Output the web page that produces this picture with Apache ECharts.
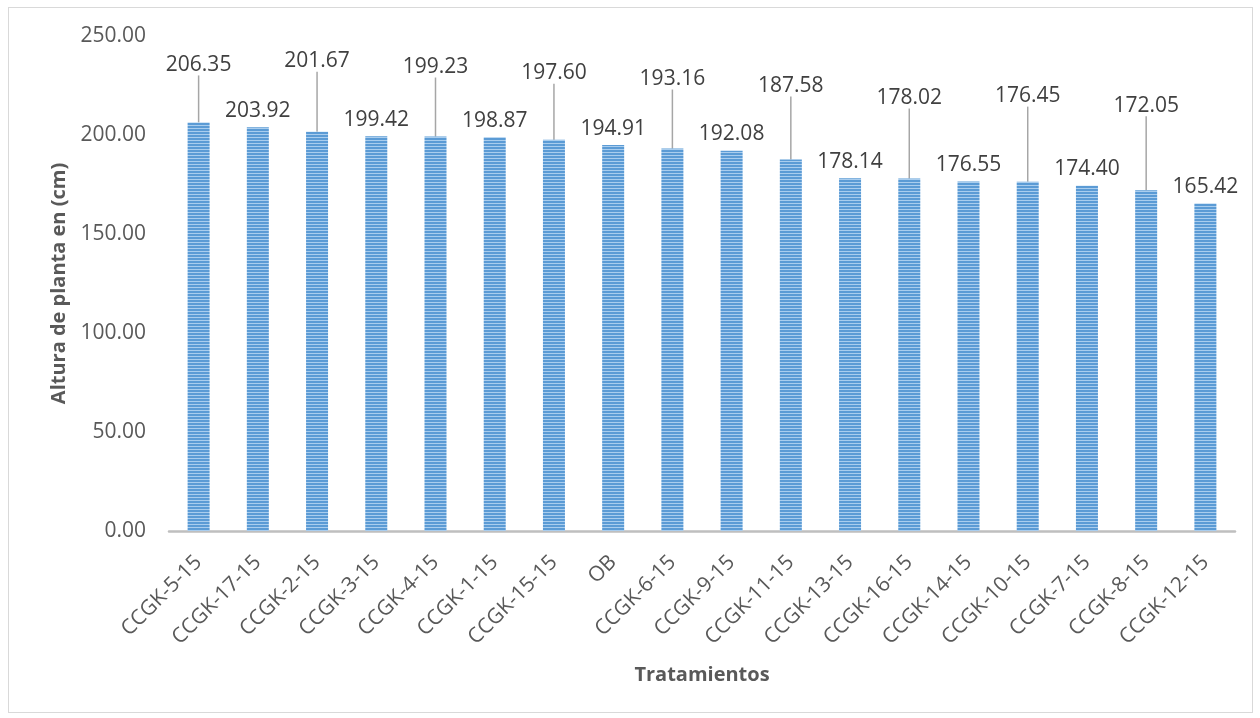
<!DOCTYPE html>
<html>
<head>
<meta charset="utf-8">
<script src="https://cdn.jsdelivr.net/npm/echarts@6/dist/echarts.min.js"></script>
<style>
html,body{margin:0;padding:0;background:#fff;}
#frame{position:absolute;left:8px;top:7px;width:1245px;height:706px;border:1.5px solid #D9D9D9;box-sizing:border-box;}
#chart{position:absolute;left:0;top:0;width:1260px;height:718px;}
</style>
</head>
<body>
<div id="frame"></div>
<div id="chart"></div>
<script>
const categories = ["CCGK-5-15","CCGK-17-15","CCGK-2-15","CCGK-3-15","CCGK-4-15","CCGK-1-15","CCGK-15-15","OB","CCGK-6-15","CCGK-9-15","CCGK-11-15","CCGK-13-15","CCGK-16-15","CCGK-14-15","CCGK-10-15","CCGK-7-15","CCGK-8-15","CCGK-12-15"];
const values = [206.35,203.92,201.67,199.42,199.23,198.87,197.60,194.91,193.16,192.08,187.58,178.14,178.02,176.55,176.45,174.40,172.05,165.42];
const yTicks = [0,50,100,150,200,250];
// extra lift (px) of the labels that carry a leader line (0 = label sits on the bar)
const labelLift = [41,0,54,0,53,0,50,0,53,0,57,0,64,0,69,0,68,0];

const cv = document.createElement('canvas');
cv.width = 3; cv.height = 3;
const cx = cv.getContext('2d');
cx.fillStyle = '#5B9BD5'; cx.fillRect(0,0,3,3);
cx.fillStyle = '#A9CDEE'; cx.fillRect(0,2,3,1);

const FONT = '"Open Sans"';
const seriesData = values.map((v,i)=>({
  value:v,
  labelLine:{show: labelLift[i] > 0}
}));

const chart = echarts.init(document.getElementById('chart'));
chart.setOption({
  animation:false,
  grid:{left:169,right:25,top:36,bottom:187},
  xAxis:{
    type:'category',data:categories,
    name:'Tratamientos',nameLocation:'middle',nameGap:134,
    nameTextStyle:{fontFamily:FONT,fontWeight:'bold',fontSize:20,color:'#595959'},
    axisLine:{lineStyle:{color:'#BFBFBF',width:2.5}},
    axisTick:{show:false},
    axisLabel:{rotate:45,interval:0,fontFamily:FONT,fontSize:21,color:'#595959',margin:28}
  },
  yAxis:{
    type:'value',min:yTicks[0],max:yTicks[yTicks.length-1],interval:yTicks[1]-yTicks[0],
    name:'Altura de planta en (cm)',nameLocation:'middle',nameGap:99,
    nameTextStyle:{fontFamily:FONT,fontWeight:'bold',fontSize:20,color:'#595959'},
    axisLine:{show:false},axisTick:{show:false},splitLine:{show:false},
    axisLabel:{fontFamily:FONT,fontSize:21,color:'#595959',margin:23,
      formatter:v=>v.toFixed(2)}
  },
  series:[{
    type:'bar',data:seriesData,barWidth:22,
    itemStyle:{color:{image:cv,repeat:'repeat'}},
    label:{show:true,position:'top',distance:6,fontFamily:FONT,fontSize:21,color:'#404040',
      formatter:p=>p.value.toFixed(2)},
    labelLine:{show:true,lineStyle:{color:'#A6A6A6',width:1.5}},
    labelLayout:function(p){return {dy:-labelLift[p.dataIndex]};}
  }]
});
</script>
</body>
</html>
